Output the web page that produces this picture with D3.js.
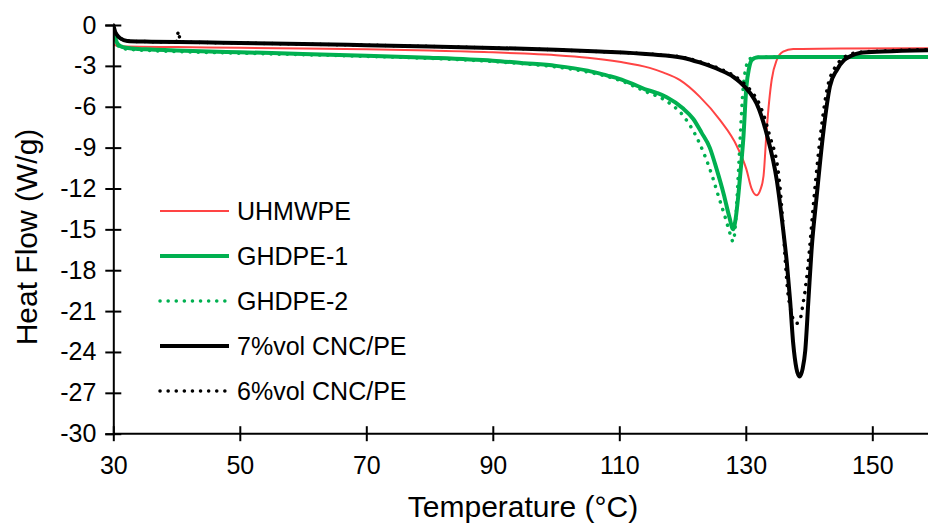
<!DOCTYPE html>
<html>
<head>
<meta charset="utf-8">
<script src="https://cdn.jsdelivr.net/npm/d3@7"></script>
<style>
  html, body { margin: 0; padding: 0; background: #fff; }
  svg { display: block; font-family: "Liberation Sans", Arial, sans-serif; }
</style>
</head>
<body>
<svg id="chart" width="928" height="527"></svg>
<script>
// DSC heat-flow traces: [temperature °C, heat flow W/g]
const uhmwpe = [[30,-1.4],[30.5,-1.52],[32,-1.58],[40,-1.62],[50,-1.67],[60,-1.72],[70,-1.78],[80,-1.88],[90,-2.0],[95,-2.1],[100,-2.22],[105,-2.4],[110,-2.7],[114.8,-3.15],[117,-3.5],[119.6,-4.05],[122.7,-5.26],[125.9,-6.97],[128.6,-8.9],[130.1,-10.6],[130.9,-12.0],[131.7,-12.5],[132.3,-12.1],[132.8,-11.1],[133.3,-7.7],[134.1,-4.0],[134.9,-2.57],[135.9,-1.96],[137.5,-1.76],[145,-1.72],[160,-1.7]];
const ghdpe1 = [[30,-0.4],[30.4,-1.1],[30.8,-1.45],[31.5,-1.62],[33,-1.72],[36,-1.8],[40,-1.87],[50,-2.0],[60,-2.12],[70,-2.25],[80,-2.4],[90,-2.62],[95,-2.8],[100,-3.0],[105,-3.35],[108,-3.7],[110,-3.95],[112,-4.3],[114,-4.7],[116,-5.0],[117.5,-5.3],[120,-6.1],[121.7,-6.9],[123,-7.9],[124.3,-9.0],[125.4,-10.6],[126.5,-12.4],[127.4,-14.1],[128,-15.0],[128.4,-14.2],[128.8,-12.6],[129.2,-10.6],[129.6,-8.4],[130.1,-4.5],[130.5,-3.2],[130.9,-2.6],[131.4,-2.42],[132,-2.36],[140,-2.35],[150,-2.35],[160,-2.35]];
const ghdpe2 = [[30,-0.4],[30.4,-1.2],[30.8,-1.55],[31.5,-1.72],[33,-1.8],[36,-1.88],[40,-1.95],[50,-2.07],[60,-2.18],[70,-2.3],[80,-2.45],[90,-2.68],[95,-2.85],[100,-3.08],[105,-3.45],[110,-4.05],[114,-4.85],[117.5,-5.6],[120,-6.6],[122.7,-8.7],[124.7,-11.1],[125.7,-12.6],[126.8,-14.2],[127.5,-15.3],[128,-15.9],[128.3,-15.0],[128.6,-12.8],[129.1,-8.4],[129.6,-4.5],[130.0,-3.2],[130.4,-2.6],[130.9,-2.42],[131.3,-2.36],[140,-2.35],[160,-2.35]];
const cnc7 = [[30,0],[30.3,-0.5],[30.7,-0.8],[31.1,-0.97],[32.2,-1.17],[35,-1.22],[43.7,-1.27],[50,-1.32],[60,-1.4],[70,-1.48],[80,-1.57],[90,-1.68],[100,-1.82],[106.9,-1.95],[114.8,-2.15],[120,-2.4],[122.7,-2.75],[125.9,-3.3],[128,-3.8],[129.1,-4.2],[130.7,-5.0],[131.7,-5.75],[133.3,-8.0],[134.9,-11.4],[135.9,-15.0],[136.5,-17.5],[137.0,-20.2],[137.5,-23.4],[138.0,-25.2],[138.5,-25.8],[139.0,-25.2],[139.4,-23.9],[139.9,-20.2],[140.4,-16.5],[141.2,-12.6],[142.3,-7.7],[143.3,-4.5],[144.4,-3.3],[145.5,-2.6],[146.5,-2.3],[148,-2.05],[151.7,-1.95],[160,-1.85]];
const cnc6 = [[30,0],[30.3,-0.5],[30.7,-0.8],[31.1,-0.97],[32.2,-1.17],[35,-1.22],[40.0,-1.25],[40.3,-0.45],[40.6,-1.25],[50,-1.32],[60,-1.4],[70,-1.48],[80,-1.57],[90,-1.68],[100,-1.82],[106.9,-1.95],[115.2,-2.15],[120.4,-2.4],[123.1,-2.75],[126.3,-3.3],[128.4,-3.8],[129.5,-4.2],[131.1,-5.0],[132.1,-5.75],[133.7,-8.0],[135.3,-11.4],[135.85,-14.5],[136.2,-17.0],[136.6,-19.4],[137.1,-20.9],[137.6,-21.7],[138.1,-21.9],[138.6,-21.6],[139.0,-20.6],[139.4,-19.4],[139.8,-17.8],[140.1,-16.3],[140.8,-12.6],[141.9,-7.7],[143.0,-4.4],[144.0,-3.2],[145.2,-2.5],[146.5,-2.15],[148,-2.0],[152,-1.9],[160,-1.8]];

const seriesNames = ["UHMWPE", "GHDPE-1", "GHDPE-2", "7%vol CNC/PE", "6%vol CNC/PE"];
const seriesData = [uhmwpe, ghdpe1, ghdpe2, cnc7, cnc6];
const seriesColors = ["#ff4444", "#00b050", "#00b050", "#000000", "#000000"];
const seriesWidths = [2, 4, 3.5, 4, 3.5];
const seriesDash = [null, null, "0.1 8", null, "0.1 8"];

const xMajorTicks = [30, 50, 70, 90, 110, 130, 150];
const xMinorTicks = d3.range(30, 161, 4).filter(v => (v - 30) % 20 !== 0);
const yMajorTicks = d3.range(0, -31, -3);
const yMinorTicks = d3.range(0, -31, -1).filter(v => v % 3 !== 0);

const svg = d3.select("#chart");
const W = 928;
const plotLeft = 113.3, plotTop = 25, plotBottom = 433.7;
const pxPerDeg = 6.325;

const x = d3.scaleLinear().domain([30, 160]).range([plotLeft, plotLeft + 130 * pxPerDeg]);
const y = d3.scaleLinear().domain([-30, 0]).range([plotBottom, plotTop]);

svg.append("defs").append("clipPath").attr("id", "plotClip")
  .append("rect").attr("x", plotLeft).attr("y", plotTop - 4)
  .attr("width", W - plotLeft).attr("height", plotBottom - plotTop + 4);

// curves
const line = d3.line().x(d => x(d[0])).y(d => y(d[1])).curve(d3.curveMonotoneX);
const plot = svg.append("g").attr("clip-path", "url(#plotClip)");
seriesData.forEach((data, i) => {
  plot.append("path")
    .datum(data)
    .attr("d", line)
    .attr("fill", "none")
    .attr("stroke", seriesColors[i])
    .attr("stroke-width", seriesWidths[i])
    .attr("stroke-linejoin", "round")
    .attr("stroke-linecap", seriesDash[i] ? "round" : "butt")
    .attr("stroke-dasharray", seriesDash[i]);
});

// x axis
const xAxisG = svg.append("g").attr("transform", `translate(0,${plotBottom})`);
xAxisG.call(d3.axisBottom(x).tickValues(xMinorTicks).tickSize(-6).tickFormat(""));
xAxisG.call(d3.axisBottom(x).tickValues(xMajorTicks).tickSize(7.5).tickPadding(15.5).tickFormat(d => String(d)));
xAxisG.selectAll(".tick line").filter(d => xMajorTicks.includes(d)).attr("y1", -7.5).attr("y2", 7.5);
xAxisG.selectAll(".domain").attr("d", `M${plotLeft},0H${W}`);

// y axis
const yAxisG = svg.append("g").attr("transform", `translate(${plotLeft},0)`);
yAxisG.call(d3.axisLeft(y).tickValues(yMinorTicks).tickSize(-7).tickFormat(""));
yAxisG.call(d3.axisLeft(y).tickValues(yMajorTicks).tickSize(8).tickPadding(9).tickFormat(d => String(d)));
yAxisG.selectAll(".tick line").filter(d => yMajorTicks.includes(d)).attr("x1", 8).attr("x2", -8);

svg.selectAll(".domain").attr("stroke", "#000").attr("stroke-width", 2);
svg.selectAll(".tick line").attr("stroke", "#000").attr("stroke-width", 2);
svg.selectAll(".tick text").attr("fill", "#000").attr("font-size", 25)
  .attr("font-family", "'Liberation Sans', Arial, sans-serif");

// axis titles
svg.append("text")
  .attr("x", 523).attr("y", 517)
  .attr("text-anchor", "middle")
  .attr("font-size", 30)
  .text("Temperature (°C)");
svg.append("text")
  .attr("transform", "translate(37,237) rotate(-90)")
  .attr("text-anchor", "middle")
  .attr("font-size", 30)
  .text("Heat Flow (W/g)");

// legend
const legend = svg.append("g");
seriesNames.forEach((name, i) => {
  const ly = 211 + i * 45;
  legend.append("line")
    .attr("x1", 160).attr("x2", 229).attr("y1", ly).attr("y2", ly)
    .attr("stroke", seriesColors[i])
    .attr("stroke-width", seriesWidths[i])
    .attr("stroke-linecap", seriesDash[i] ? "round" : "butt")
    .attr("stroke-dasharray", seriesDash[i]);
  legend.append("text")
    .attr("x", 237).attr("y", ly).attr("dy", "0.35em")
    .attr("font-size", 25)
    .text(name);
});
</script>
</body>
</html>
